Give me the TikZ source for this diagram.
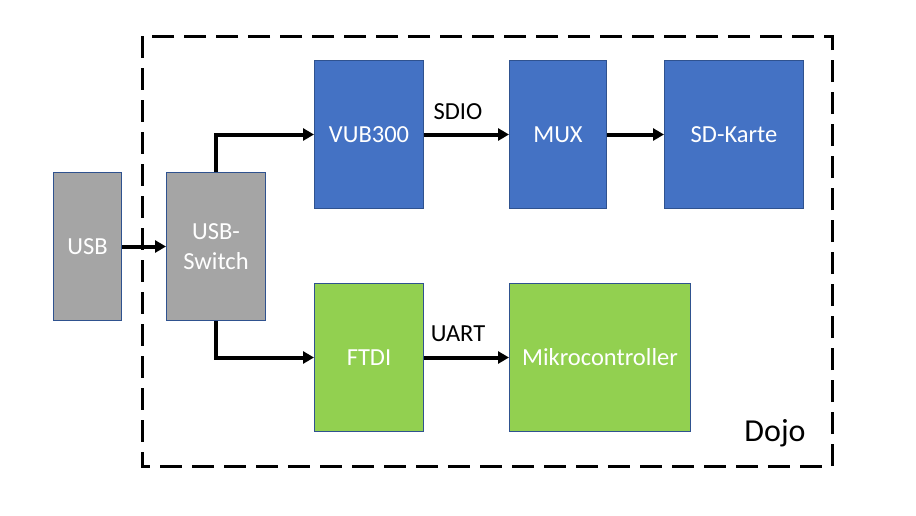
\documentclass[tikz,border=0pt]{standalone}
\usepackage{fontspec}
\setmainfont{Carlito}
\usetikzlibrary{arrows.meta}
\definecolor{blockblue}{HTML}{4472C4}
\definecolor{blockgreen}{HTML}{92D050}
\definecolor{blockgray}{HTML}{A5A5A5}
\definecolor{blockedge}{HTML}{2F528F}
\tikzset{
    block/.style={draw=blockedge,line width=1pt,inner sep=0pt,text=white,
        font=\fontsize{24.5}{30}\selectfont,align=center,minimum height=148pt},
    usbblock/.style={block,fill=blockgray},
    sdblock/.style={block,fill=blockblue},
    uartblock/.style={block,fill=blockgreen},
    link/.style={line width=4pt,-{Triangle[length=11pt,width=12pt]}},
    linklabel/.style={font=\fontsize{24.5}{30}\selectfont,pos=0.4,above=10pt}
}
\begin{document}
\begin{tikzpicture}[x=1pt,y=-1pt]
    \useasboundingbox (0,0) rectangle (916,515);

    \draw[line width=3pt,dash pattern=on 22pt off 10pt] (142,36) rectangle (832,466); % Dojo frame
    \node[font=\fontsize{32}{36}\selectfont] (dojo) at (775,433) {Dojo};

    \node[usbblock,minimum width=68pt]  (usb)    at (87.5,246.5) {USB};
    \node[usbblock,minimum width=99pt]  (switch) at (216,246.5)  {USB-\\Switch};

    \node[sdblock,minimum width=109pt]  (vub)    at (369,134.5)  {VUB300};
    \node[sdblock,minimum width=97pt]   (mux)    at (558,134.5)  {MUX};
    \node[sdblock,minimum width=139pt]  (sd)     at (734,134.5)  {SD-Karte};

    \node[uartblock,minimum width=109pt] (ftdi)  at (369,357.5)  {FTDI};
    \node[uartblock,minimum width=181pt] (mcu)   at (600,357.5)  {Mikrocontroller};

    \draw[link] (usb) -- (switch);
    \draw[link] (switch.north) |- (vub.west);
    \draw[link] (switch.south) |- (ftdi.west);
    \draw[link] (vub) -- (mux) node[linklabel] {SDIO};
    \draw[link] (mux) -- (sd);
    \draw[link] (ftdi) -- (mcu) node[linklabel] {UART};
\end{tikzpicture}
\end{document}
